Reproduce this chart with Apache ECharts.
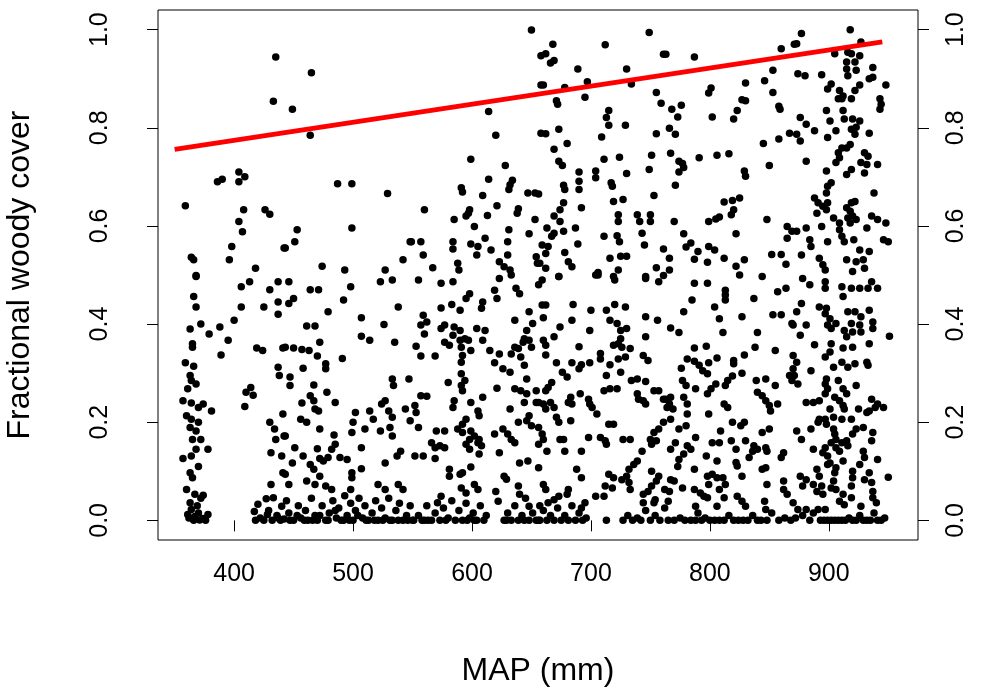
<!DOCTYPE html>
<html>
<head>
<meta charset="utf-8">
<title>Fractional woody cover vs MAP</title>
<script src="https://cdn.jsdelivr.net/npm/echarts@6.0.0/dist/echarts.min.js"></script>
<style>
 html, body { margin: 0; padding: 0; background: #fff; }
 #chart1 { width: 996px; height: 698px; }
</style>
</head>
<body>
<div id="chart1"></div>
<script>
// points, grouped by MAP band: [MAP (mm), fractional woody cover]
var sites336to445 = [
 [435,0.944],[433,0.854],[404,0.71],[409,0.70],[404,0.69],[386,0.69],[390,0.695],[359,0.641],[408,0.633],[426,0.633],
 [430,0.624],[404,0.609],[407,0.588],[398,0.558],[364,0.536],[366,0.531],[396,0.531],[418,0.514],[442,0.555],[368,0.499],
 [368,0.497],[406,0.476],[413,0.486],[430,0.47],[437,0.486],[366,0.456],[368,0.435],[406,0.435],[425,0.435],[437,0.445],
 [437,0.42],[363,0.39],[372,0.40],[379,0.38],[388,0.394],[400,0.408],[395,0.367],[365,0.36],[365,0.353],[389,0.337],
 [419,0.351],[424,0.346],[441,0.351],[359,0.321],[366,0.314],[437,0.312],[438,0.295],[363,0.295],[364,0.285],[368,0.278],
 [361,0.268],[414,0.271],[410,0.261],[416,0.255],[409,0.232],[357,0.244],[364,0.239],[370,0.23],[374,0.237],[381,0.223],
 [360,0.213],[364,0.206],[370,0.2],[363,0.189],[368,0.182],[365,0.165],[372,0.165],[378,0.145],[368,0.145],[357,0.126],
 [364,0.131],[441,0.217],[430,0.2],[434,0.186],[435,0.165],[442,0.172],[431,0.138],[440,0.131],[370,0.11],[363,0.097],
 [365,0.087],[431,0.073],[441,0.097],[360,0.063],[367,0.053],[374,0.051],[363,0.036],[364,0.022],[361,0.012],[367,0.008],
 [371,0.001],[378,0.012],[420,0.033],[427,0.044],[433,0.046],[417,0.018],[428,0.012],[437,0.005],[442,0.003],[440,0.029],
 [418,0.0],[422,0.005],[425,0.0],[429,0.02],[432,0.0],[436,0.01],[439,0.0],[366,0.0],[370,0.015],[374,0.004],
 [362,0.005],[369,0.03],[376,0.0],[372,0.045]
];

var sites443to552 = [
 [465,0.912],[449,0.838],[464,0.785],[487,0.686],[499,0.686],[529,0.666],[453,0.592],[451,0.568],[443,0.555],[499,0.596],
 [548,0.568],[542,0.531],[474,0.518],[493,0.51],[527,0.51],
 [446,0.486],[464,0.47],[471,0.47],[498,0.476],[523,0.486],[533,0.49],[450,0.452],[446,0.442],[492,0.449],[479,0.425],
 [538,0.435],[461,0.396],[468,0.396],[507,0.413],[526,0.399],[507,0.375],[514,0.367],[535,0.363],[472,0.363],[443,0.353],
 [450,0.351],[457,0.348],[463,0.346],[470,0.335],[491,0.33],[477,0.319],[477,0.309],[458,0.31],[447,0.292],[447,0.275],
 [467,0.276],[533,0.288],[534,0.275],[547,0.288],[478,0.261],[485,0.24],[464,0.254],[467,0.244],[468,0.227],[471,0.223],
 [457,0.239],[527,0.244],[524,0.237],[544,0.227],[456,0.206],[461,0.2],[514,0.223],[517,0.206],[502,0.22],[500,0.2],
 [530,0.223],[533,0.21],[548,0.203],[472,0.186],[484,0.174],[510,0.186],[523,0.182],[531,0.189],[533,0.172],[443,0.172],
 [499,0.179],[485,0.155],[482,0.145],[479,0.128],[451,0.148],[470,0.146],[507,0.148],[540,0.141],[537,0.131],[458,0.131],
 [464,0.114],[467,0.104],[472,0.126],[475,0.121],[489,0.128],[495,0.124],[449,0.117],[527,0.117],[507,0.105],[499,0.097],
 [499,0.087],[472,0.09],[443,0.094],[446,0.073],[461,0.08],[468,0.073],[477,0.07],[482,0.063],[521,0.073],[527,0.063],
 [538,0.073],[542,0.063],[498,0.063],
 [444,0.04],[446,0.015],[450,0.0],[454,0.03],[456,0.005],[460,0.02],[462,0.0],[465,0.045],[468,0.01],[470,0.0],
 [474,0.03],[477,0.0],[480,0.015],[483,0.04],[486,0.005],[488,0.025],[490,0.0],[493,0.05],[495,0.01],[498,0.035],
 [500,0.0],[502,0.02],[505,0.045],[508,0.005],[510,0.03],[513,0.0],[516,0.015],[519,0.04],[521,0.0],[524,0.025],
 [527,0.005],[530,0.045],[533,0.0],[536,0.02],[539,0.035],[542,0.0],[545,0.01],[548,0.03],[551,0.0],
 [447,0.0],[453,0.01],[459,0.0],[466,0.0],[472,0.01],[479,0.0],[485,0.02],[492,0.0],[497,0.0],[504,0.01],
 [511,0.0],[518,0.0],[525,0.0],[531,0.0],[538,0.0],[546,0.0]
];

var sites549to658 = [
 [650,0.999],[658,0.947],[658,0.887],[614,0.833],[620,0.785],[658,0.789],[599,0.736],[628,0.723],[614,0.695],[634,0.693],
 [632,0.684],[631,0.674],[591,0.678],[592,0.669],[609,0.662],[647,0.667],[653,0.667],[621,0.641],[560,0.633],[598,0.633],
 [597,0.626],[595,0.62],[639,0.635],[638,0.626],[613,0.621],[585,0.613],[653,0.613],[602,0.599],[631,0.592],[549,0.568],
 [557,0.568],[584,0.568],[584,0.553],[599,0.563],[605,0.558],[604,0.541],[611,0.575],[616,0.551],[630,0.568],[630,0.541],
 [648,0.584],[559,0.541],[567,0.515],[588,0.524],[589,0.51],[623,0.527],[627,0.517],[632,0.51],[654,0.537],[655,0.524],
 [555,0.49],[574,0.483],[584,0.486],[623,0.493],[633,0.5],[598,0.462],[595,0.452],[619,0.469],[621,0.452],[637,0.473],
 [640,0.462],[609,0.445],[608,0.432],[574,0.433],[583,0.44],[590,0.428],[559,0.418],[562,0.404],[557,0.398],[560,0.38],
 [636,0.408],[648,0.425],[651,0.401],[574,0.391],[577,0.398],[585,0.394],[590,0.387],[584,0.377],[604,0.391],[611,0.387],
 [646,0.387],[644,0.37],[553,0.355],[577,0.363],[581,0.357],[590,0.367],[594,0.37],[591,0.353],[597,0.367],[609,0.367],
 [599,0.346],[557,0.335],[569,0.335],[592,0.336],[591,0.322],[615,0.346],[623,0.339],[619,0.321],[633,0.339],[639,0.35],
 [643,0.363],[648,0.367],[650,0.353],[636,0.353],[626,0.309],[632,0.302],[641,0.333],[644,0.316],[591,0.299],[594,0.285],
 [591,0.275],[580,0.281],[592,0.264],[646,0.288],[621,0.269],[636,0.268],[641,0.264],[646,0.258],[654,0.264],[557,0.254],
 [562,0.253],[552,0.234],[553,0.22],[585,0.244],[584,0.23],[599,0.24],[609,0.251],[605,0.223],[606,0.213],[632,0.227],
 [644,0.24],[654,0.24],[595,0.206],[592,0.196],[588,0.186],[592,0.179],[599,0.182],[602,0.172],[598,0.165],[606,0.165],
 [570,0.182],[577,0.182],[555,0.189],[619,0.176],[626,0.186],[630,0.176],[633,0.165],[636,0.158],[639,0.2],[646,0.203],
 [648,0.213],[650,0.193],[566,0.158],[569,0.148],[573,0.152],[577,0.148],[595,0.155],[598,0.145],[605,0.158],[608,0.152],
 [552,0.131],[559,0.131],[569,0.126],[623,0.138],[640,0.117],[647,0.121],[606,0.135],[599,0.109],[592,0.097],[590,0.094],
 [581,0.104],[581,0.09],[627,0.09],[629,0.084],[602,0.073],[605,0.063],[591,0.066],[595,0.056],[639,0.07],[640,0.053],
 [620,0.059],[622,0.039],[574,0.049],[571,0.036],[648,0.029],
 [550,0.0],[555,0.01],[558,0.0],[562,0.03],[566,0.0],[569,0.015],[573,0.0],[576,0.025],[580,0.005],[583,0.04],
 [586,0.0],[589,0.02],[592,0.0],[595,0.035],[598,0.005],[601,0.015],[604,0.0],[607,0.03],[610,0.0],[612,0.01],
 [627,0.0],[630,0.015],[633,0.0],[636,0.03],[639,0.0],[642,0.01],[645,0.045],[648,0.0],[651,0.015],[654,0.0],[657,0.03],
 [560,0.0],[563,0.0],[578,0.0],[596,0.0],[602,0.0],[629,0.0],[644,0.0],[656,0.0]
];

var sites656to765 = [
 [749,0.994],[668,0.97],[712,0.969],[662,0.951],[669,0.937],[666,0.932],[761,0.95],[689,0.92],[730,0.92],[697,0.894],
 [734,0.889],[660,0.887],[678,0.882],[755,0.872],[759,0.85],[671,0.855],[672,0.848],[695,0.862],[715,0.835],[713,0.821],
 [715,0.805],[729,0.805],[662,0.788],[673,0.797],[709,0.781],[755,0.788],[680,0.768],[669,0.756],[673,0.732],[676,0.723],
 [711,0.736],[724,0.74],[751,0.744],[690,0.71],[704,0.712],[704,0.698],[730,0.707],[749,0.715],[677,0.683],[678,0.674],
 [690,0.691],[690,0.674],[717,0.688],[718,0.681],[753,0.662],[656,0.665],[719,0.65],[727,0.654],[677,0.647],[674,0.633],
 [692,0.637],[669,0.62],[674,0.609],[723,0.623],[723,0.609],[739,0.623],[741,0.609],[750,0.623],[750,0.609],[663,0.596],
 [669,0.585],[667,0.579],[677,0.589],[687,0.596],[711,0.579],[722,0.58],[724,0.568],[743,0.585],[745,0.561],[659,0.561],
 [664,0.558],[662,0.544],[657,0.524],[662,0.514],[689,0.563],[678,0.546],[761,0.553],[716,0.534],[725,0.538],[730,0.538],
 [681,0.527],[684,0.517],[755,0.515],[761,0.499],[706,0.505],[704,0.5],[723,0.51],[673,0.497],[746,0.497],
 [659,0.49],[656,0.48],[673,0.497],[706,0.5],[719,0.497],[720,0.49],[746,0.493],[757,0.486],[659,0.439],[662,0.439],
 [685,0.44],[700,0.428],[713,0.428],[720,0.44],[729,0.435],[660,0.413],[684,0.408],[716,0.408],[722,0.401],[725,0.387],
 [730,0.391],[746,0.415],[756,0.408],[674,0.394],[699,0.387],[669,0.374],[660,0.367],[662,0.357],[725,0.37],[723,0.36],
 [719,0.357],[726,0.353],[746,0.374],[690,0.354],[733,0.35],[729,0.333],[708,0.34],[708,0.329],[662,0.337],[744,0.336],
 [748,0.326],[671,0.321],[684,0.321],[692,0.317],[699,0.321],[690,0.309],[716,0.317],[723,0.329],[676,0.302],[680,0.292],
 [725,0.302],[713,0.295],[734,0.285],[739,0.288],[746,0.283],[667,0.281],[664,0.271],[662,0.264],[711,0.264],[716,0.268],
 [722,0.268],[656,0.24],[660,0.237],[662,0.227],[666,0.24],[669,0.23],[683,0.251],[681,0.24],[684,0.237],[691,0.258],
 [698,0.247],[699,0.237],[701,0.23],[739,0.258],[740,0.247],[744,0.244],[746,0.237],[753,0.264],[757,0.264],[761,0.247],
 [764,0.23],[671,0.21],[673,0.2],[683,0.203],[705,0.217],[715,0.196],[719,0.196],[656,0.189],[659,0.176],[660,0.165],
 [656,0.155],[674,0.165],[677,0.165],[698,0.169],[708,0.169],[712,0.162],[713,0.155],[727,0.165],[733,0.165],[757,0.186],
 [753,0.179],[750,0.165],[761,0.2],[755,0.162],[751,0.155],[663,0.141],[678,0.141],[692,0.141],[743,0.141],[656,0.107],
 [688,0.104],[692,0.087],[732,0.104],[736,0.114],[739,0.121],[730,0.09],[751,0.1],[715,0.094],[719,0.087],[712,0.07],
 [718,0.066],[726,0.083],[732,0.077],[733,0.063],[757,0.09],[755,0.08],[751,0.07],[748,0.059],[744,0.053],[660,0.073],
 [662,0.063],[681,0.063],[680,0.053],[673,0.049],[669,0.042],[664,0.036],[711,0.049],[704,0.049],[744,0.036],[753,0.036],
 [754,0.042],[695,0.036],[692,0.025],[762,0.063],[765,0.039],
 [657,0.0],[660,0.02],[663,0.0],[666,0.01],[669,0.0],[672,0.025],[675,0.0],[678,0.01],[681,0.0],[684,0.03],
 [687,0.0],[690,0.015],[693,0.0],[696,0.005],[713,0.0],[727,0.0],[731,0.01],[735,0.0],[739,0.005],[742,0.0],
 [746,0.02],[750,0.0],[754,0.01],[758,0.0],[762,0.025]
];

var sites763to872 = [
 [787,0.944],[860,0.961],[871,0.97],[763,0.95],[853,0.917],[846,0.896],[853,0.872],[830,0.891],[801,0.881],[799,0.871],
 [827,0.857],[830,0.855],[858,0.844],[859,0.838],[823,0.835],[820,0.818],[768,0.838],[776,0.846],[773,0.822],[802,0.822],
 [766,0.799],[771,0.787],[867,0.789],[858,0.777],[845,0.768],[767,0.748],[774,0.732],[777,0.727],[778,0.719],[774,0.71],
 [791,0.739],[806,0.744],[816,0.747],[850,0.723],[829,0.712],[830,0.701],[771,0.683],[812,0.649],[819,0.652],[825,0.657],
 [820,0.633],[818,0.623],[808,0.618],[805,0.614],[799,0.609],[770,0.609],[848,0.613],[865,0.599],[869,0.589],[865,0.575],
 [778,0.584],[822,0.584],[784,0.565],[780,0.557],[799,0.558],[804,0.551],[790,0.548],[766,0.534],[766,0.51],[787,0.532],
 [812,0.534],[829,0.531],[822,0.518],[798,0.526],[852,0.542],[860,0.542],[864,0.522],[844,0.497],[825,0.5],
 [787,0.483],[798,0.483],[813,0.469],[813,0.459],[813,0.449],[785,0.449],[804,0.435],[837,0.452],[778,0.425],[808,0.411],
 [827,0.415],[853,0.419],[860,0.419],[857,0.466],[864,0.473],[767,0.392],[774,0.383],[811,0.383],[840,0.383],[869,0.401],
 [787,0.351],[797,0.355],[838,0.353],[855,0.346],[781,0.329],[787,0.324],[791,0.316],[799,0.321],[806,0.331],[820,0.326],
 [820,0.319],[829,0.337],[776,0.31],[794,0.305],[798,0.299],[827,0.3],[819,0.294],[815,0.285],[813,0.275],[777,0.285],
 [780,0.275],[788,0.268],[805,0.278],[801,0.268],[798,0.258],[839,0.285],[847,0.288],[855,0.275],[867,0.295],[869,0.285],
 [840,0.261],[844,0.254],[763,0.247],[767,0.251],[766,0.237],[769,0.227],[767,0.206],[778,0.251],[781,0.237],[781,0.217],
 [812,0.237],[815,0.23],[847,0.244],[850,0.234],[851,0.223],[857,0.237],[799,0.217],[774,0.186],[780,0.193],[819,0.2],
 [826,0.193],[829,0.2],[809,0.182],[844,0.179],[850,0.186],[788,0.169],[771,0.158],[767,0.145],[781,0.152],[784,0.145],
 [778,0.135],[774,0.124],[773,0.11],[802,0.158],[808,0.158],[818,0.162],[822,0.145],[830,0.162],[837,0.152],[836,0.141],
 [833,0.128],[840,0.145],[847,0.148],[848,0.141],[862,0.138],[860,0.128],[797,0.131],[822,0.118],[823,0.111],[806,0.121],
 [787,0.104],[847,0.107],[844,0.104],[798,0.09],[802,0.094],[806,0.087],[811,0.087],[813,0.073],[827,0.09],[767,0.083],
 [770,0.08],[848,0.073],[799,0.073],[862,0.08],[862,0.063],[865,0.053],[766,0.059],[777,0.066],[787,0.063],[792,0.056],
 [795,0.049],[798,0.046],[808,0.063],[823,0.049],[827,0.039],[830,0.029],[806,0.029],[812,0.046],[788,0.029],[846,0.039],
 [847,0.022],
 [765,0.0],[770,0.0],[775,0.005],[779,0.0],[784,0.0],[788,0.0],[790,0.015],[793,0.0],[796,0.005],[800,0.0],
 [804,0.0],[808,0.0],[812,0.0],[816,0.01],[820,0.0],[824,0.0],[828,0.0],[832,0.0],[836,0.01],[840,0.0],
 [843,0.0],[848,0.0],[852,0.015],[858,0.0],[863,0.005],[868,0.0]
];

var sites870to952 = [
 [918,1.0],[877,0.992],[873,0.971],[927,0.975],[926,0.947],[905,0.951],[916,0.954],[919,0.951],[915,0.934],[922,0.934],
 [915,0.92],[916,0.906],[923,0.917],[937,0.923],[874,0.91],[880,0.906],[894,0.908],[934,0.9],[937,0.903],[902,0.889],
 [899,0.879],[926,0.887],[922,0.876],[948,0.887],[909,0.876],[912,0.865],[908,0.859],[911,0.859],[919,0.859],[943,0.859],
 [944,0.848],[943,0.838],[898,0.835],[912,0.835],[876,0.821],[881,0.807],[901,0.814],[913,0.818],[920,0.818],[926,0.814],
 [923,0.801],[919,0.797],[922,0.787],[888,0.794],[906,0.794],[934,0.789],[873,0.787],[876,0.773],[899,0.78],[918,0.766],
 [915,0.759],[911,0.759],[908,0.749],[909,0.739],[906,0.729],[930,0.749],[933,0.742],[927,0.729],[932,0.725],[930,0.708],
 [941,0.725],[881,0.732],[919,0.715],[915,0.705],[898,0.712],[902,0.688],[899,0.681],[898,0.667],[938,0.667],[888,0.657],
 [891,0.647],[895,0.64],[899,0.647],[898,0.633],[904,0.616],[915,0.637],[918,0.63],[920,0.62],[919,0.647],[922,0.65],
 [916,0.616],[923,0.613],[918,0.606],[890,0.626],[936,0.62],[941,0.613],[948,0.606],[894,0.599],[909,0.606],[909,0.592],
 [911,0.579],[913,0.568],[873,0.589],[881,0.596],[932,0.596],[921,0.572],[946,0.572],[950,0.568],[884,0.572],[885,0.558],
 [899,0.568],[877,0.541],[926,0.551],[934,0.548],[915,0.531],[923,0.527],[929,0.531],[930,0.514],[892,0.534],[895,0.521],
 [897,0.51],[920,0.507],
 [878,0.493],[884,0.48],[897,0.486],[897,0.473],[911,0.476],[919,0.473],[926,0.473],[933,0.473],[941,0.473],[936,0.486],
 [912,0.456],[877,0.442],[873,0.425],[892,0.435],[898,0.432],[897,0.421],[901,0.411],[899,0.398],[902,0.391],[916,0.425],
 [922,0.425],[927,0.415],[934,0.428],[906,0.401],[913,0.387],[915,0.374],[919,0.401],[926,0.398],[927,0.384],[920,0.384],
 [937,0.404],[937,0.391],[951,0.375],[870,0.398],[881,0.398],[876,0.377],[934,0.36],[888,0.358],[902,0.36],[901,0.343],
 [897,0.333],[912,0.351],[920,0.353],[870,0.336],[873,0.322],[870,0.309],[871,0.295],[885,0.305],[904,0.312],[911,0.322],
 [916,0.312],[922,0.319],[932,0.322],[933,0.316],[874,0.278],[898,0.288],[897,0.278],[899,0.268],[897,0.258],[908,0.285],
 [912,0.268],[915,0.258],[923,0.275],[881,0.24],[887,0.24],[892,0.244],[905,0.251],[909,0.244],[912,0.234],[913,0.227],
 [901,0.227],[925,0.227],[936,0.247],[941,0.237],[946,0.23],[939,0.23],[934,0.223],[932,0.22],[892,0.206],[897,0.206],
 [891,0.2],[898,0.196],[904,0.21],[911,0.206],[919,0.206],[929,0.189],[923,0.186],[920,0.176],[873,0.182],[877,0.165],
 [885,0.186],[904,0.186],[905,0.176],[906,0.165],[911,0.158],[902,0.158],[906,0.148],[909,0.141],[915,0.162],[916,0.152],
 [937,0.179],[936,0.162],[887,0.145],[897,0.148],[895,0.138],[899,0.131],[901,0.117],[912,0.121],[906,0.107],[905,0.097],
 [929,0.141],[930,0.128],[926,0.114],[920,0.1],[941,0.124],[890,0.104],[892,0.09],[899,0.114],[950,0.088],[876,0.09],
 [881,0.083],[878,0.07],[887,0.073],[890,0.059],[895,0.053],[894,0.07],[904,0.08],[902,0.066],[906,0.063],[912,0.053],
 [920,0.087],[919,0.07],[934,0.097],[936,0.077],[937,0.059],[930,0.083],[909,0.039],[913,0.032],[919,0.046],[937,0.046],
 [940,0.036],[927,0.029],[870,0.036],[874,0.022],[881,0.022],[887,0.015],[891,0.022],[897,0.022],
 [893,0.0],[896,0.0],[899,0.0],[902,0.0],[905,0.0],[908,0.0],[911,0.0],[914,0.0],[917,0.005],[920,0.0],
 [923,0.0],[926,0.01],[929,0.0],[932,0.0],[935,0.0],[938,0.015],[941,0.0],[944,0.0],[947,0.005],[872,0.005],
 [878,0.01],[884,0.0]
];

// fitted upper line (red)
var fitMap = [350, 945];
var fitCover = [0.756, 0.975];

var xTicks = [400, 500, 600, 700, 800, 900];
var yTicks = [0, 0.2, 0.4, 0.6, 0.8, 1.0];

var dom = document.getElementById("chart1");
var myChart = echarts.init(dom, null, { renderer: 'canvas' });
var option = null;

var sites = [].concat(sites336to445, sites443to552, sites549to658,
 sites656to765, sites763to872, sites870to952);
var fitLine = fitMap.map(function (m, i) { return [m, fitCover[i]]; });

var font = 'Liberation Sans, Arial, sans-serif';
var yLabel = {
 customValues: yTicks,
 rotate: 90,
 color: '#000',
 fontSize: 25,
 fontFamily: font,
 formatter: function (v) { return v.toFixed(1); }
};

option = {
 animation: false,
 backgroundColor: '#fff',
 grid: {
  left: 158,
  top: 10,
  width: 760,
  height: 530,
  outerBoundsMode: 'none',
  show: true,
  borderColor: '#000',
  borderWidth: 1,
  backgroundColor: 'transparent'
 },
 xAxis: {
  type: 'value',
  min: 336,
  max: 975,
  name: 'MAP (mm)',
  nameLocation: 'middle',
  nameGap: 115,
  nameTextStyle: { color: '#000', fontSize: 32, fontFamily: font },
  axisLine: { show: false },
  splitLine: { show: false },
  axisTick: { customValues: xTicks, length: 11, lineStyle: { color: '#000' } },
  axisLabel: { customValues: xTicks, color: '#000', fontSize: 25, fontFamily: font, margin: 22 }
 },
 yAxis: [
  {
   type: 'value',
   min: -0.04,
   max: 1.04,
   position: 'left',
   name: 'Fractional woody cover',
   nameLocation: 'middle',
   nameRotate: 90,
   nameGap: 122,
   nameTextStyle: { color: '#000', fontSize: 32, fontFamily: font },
   axisLine: { show: false },
   splitLine: { show: false },
   axisTick: { customValues: yTicks, length: 11, lineStyle: { color: '#000' } },
   axisLabel: Object.assign({ margin: 45 }, yLabel)
  },
  {
   type: 'value',
   min: -0.04,
   max: 1.04,
   position: 'right',
   axisLine: { show: false },
   splitLine: { show: false },
   axisTick: { customValues: yTicks, length: 11, lineStyle: { color: '#000' } },
   axisLabel: Object.assign({ margin: 26 }, yLabel)
  }
 ],
 series: [
  {
   name: 'sites',
   type: 'scatter',
   data: sites,
   symbol: 'circle',
   symbolSize: 7.5,
   itemStyle: { color: '#000', opacity: 1 },
   silent: true
  },
  {
   name: 'fit',
   type: 'line',
   data: fitLine,
   showSymbol: false,
   symbol: 'none',
   lineStyle: { color: '#ff0000', width: 5 },
   silent: true,
   z: 3
  }
 ]
};

if (option && typeof option === "object") {
 myChart.setOption(option, true);
}
</script>
</body>
</html>
